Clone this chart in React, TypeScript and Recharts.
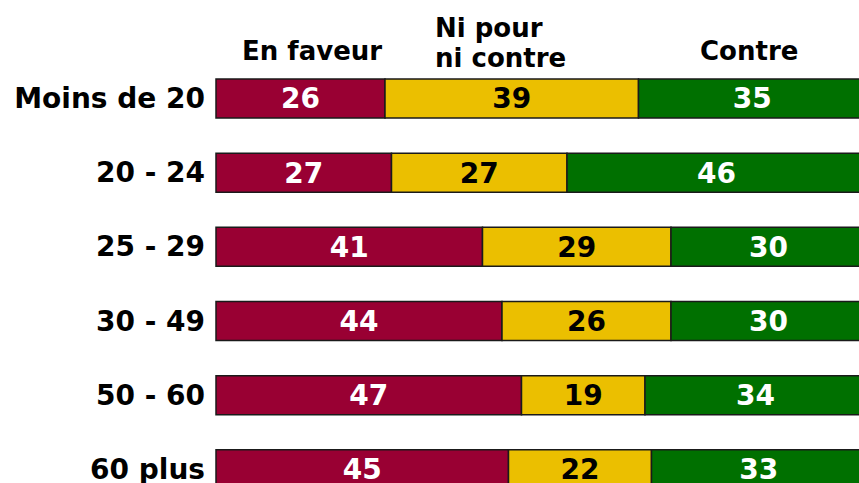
import React from 'react';
import { BarChart, Bar, XAxis, YAxis, LabelList } from 'recharts';

const categories = ['Moins de 20', '20 - 24', '25 - 29', '30 - 49', '50 - 60', '60 plus'];
const enFaveur = [26, 27, 41, 44, 47, 45];
const niPourNiContre = [39, 27, 29, 26, 19, 22];
const contre = [35, 46, 30, 30, 34, 33];

const data = categories.map((name, i) => ({
  name,
  enFaveur: enFaveur[i],
  niPourNiContre: niPourNiContre[i],
  contre: contre[i],
}));

const FONT = '"DejaVu Sans", Verdana, sans-serif';

const App: React.FC = () => {
  return (
    <div style={{ position: 'relative', width: 859, height: 483, overflow: 'hidden', background: '#fff' }}>
      <style>{'body{margin:0;overflow:hidden}'}</style>
      <BarChart
        width={866}
        height={506}
        data={data}
        layout="vertical"
        margin={{ top: 61, right: 0, bottom: 0, left: 8 }}
      >
        <XAxis type="number" domain={[0, 100]} hide />
        <YAxis
          type="category"
          dataKey="name"
          width={208}
          axisLine={false}
          tickLine={false}
          tickSize={0}
          tickMargin={11}
          tick={{ fontSize: 28, fontWeight: 'bold', fill: '#000', fontFamily: FONT }}
        />
        <Bar dataKey="enFaveur" stackId="a" fill="#990033" stroke="#1a1a1a" strokeWidth={1.5} barSize={39} isAnimationActive={false}>
          <LabelList dataKey="enFaveur" position="center" fill="#fff" style={{ fontSize: 28, fontWeight: 'bold', fontFamily: FONT }} />
        </Bar>
        <Bar dataKey="niPourNiContre" stackId="a" fill="#ebbf00" stroke="#1a1a1a" strokeWidth={1.5} barSize={39} isAnimationActive={false}>
          <LabelList dataKey="niPourNiContre" position="center" fill="#000" style={{ fontSize: 28, fontWeight: 'bold', fontFamily: FONT }} />
        </Bar>
        <Bar dataKey="contre" stackId="a" fill="#007000" stroke="#1a1a1a" strokeWidth={1.5} barSize={39} isAnimationActive={false}>
          <LabelList dataKey="contre" position="center" fill="#fff" style={{ fontSize: 28, fontWeight: 'bold', fontFamily: FONT }} />
        </Bar>
      </BarChart>
      <svg width={859} height={80} style={{ position: 'absolute', left: 0, top: 0, pointerEvents: 'none' }}>
        <g fontFamily={FONT} fontWeight="bold" fontSize={26} fill="#000">
          <text x={242} y={60}>En faveur</text>
          <text x={435} y={37}>Ni pour</text>
          <text x={435} y={67}>ni contre</text>
          <text x={700} y={60}>Contre</text>
        </g>
      </svg>
    </div>
  );
};

export default App;
